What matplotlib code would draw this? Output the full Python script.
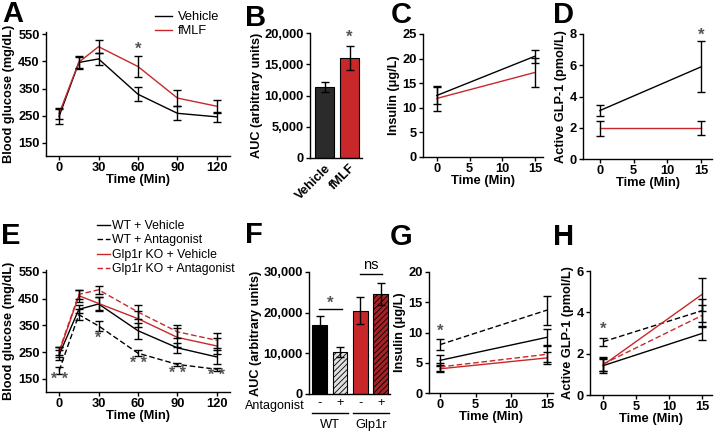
import numpy as np
import matplotlib
matplotlib.use("Agg")
import matplotlib.pyplot as plt
from matplotlib.lines import Line2D

plt.rcParams['font.family'] = ['Liberation Sans', 'DejaVu Sans']
plt.rcParams['hatch.linewidth'] = 0.6

W, H = 717, 434
BLACK = '#000000'
RED = '#c8282a'
STAR = '#555555'

# ---- panel A: OGTT vehicle vs fMLF
t_ogtt = [0, 15, 30, 60, 90, 120]
a_veh = [248, 446, 459, 329, 259, 246]
a_veh_err = [28, 24, 21, 25, 26, 19]
a_fmlf = [258, 447, 504, 431, 315, 285]
a_fmlf_err = [20, 20, 25, 38, 30, 24]

# ---- panel B: AUC
b_groups = ['Vehicle', 'fMLF']
b_auc = [11300, 16000]
b_err = [800, 1900]

# ---- panel C: insulin
t_short = [0, 15]
c_veh = [12.5, 20.5]
c_veh_err = [1.8, 1.3]
c_fmlf = [11.9, 17.2]
c_fmlf_err = [2.6, 2.9]

# ---- panel D: GLP-1
d_veh = [3.1, 5.9]
d_veh_err = [0.36, 1.62]
d_fmlf = [1.97, 1.97]
d_fmlf_err = [0.48, 0.46]

# ---- panel E: OGTT four groups
e_labels = ['WT + Vehicle', 'WT + Antagonist', 'Glp1r KO + Vehicle', 'Glp1r KO + Antagonist']
e_wt_veh = [240, 410, 430, 330, 266, 232]
e_wt_veh_err = [18, 15, 25, 30, 20, 25]
e_wt_ant = [181, 390, 348, 246, 204, 186]
e_wt_ant_err = [12, 20, 20, 12, 7, 6]
e_ko_veh = [250, 461, 432, 375, 305, 273]
e_ko_veh_err = [20, 22, 25, 30, 35, 30]
e_ko_ant = [255, 466, 483, 400, 326, 294]
e_ko_ant_err = [15, 18, 15, 28, 25, 28]
e_stars = {0: (146, '* *'), 30: (303, '*'), 60: (206, '* *'), 90: (169, '* *'), 120: (161, '* *')}

# ---- panel F: AUC four groups
f_signs = ['-', '+', '-', '+']
f_auc = [17000, 10300, 20500, 24700]
f_err = [2200, 1200, 3300, 2700]

# ---- panel G: insulin four groups
g_wt_veh = [5.4, 9.2]
g_wt_veh_err = [0.8, 1.3]
g_wt_ant = [8.0, 13.7]
g_wt_ant_err = [0.85, 2.4]
g_ko_veh = [4.0, 5.8]
g_ko_veh_err = [0.5, 1.0]
g_ko_ant = [4.3, 6.4]
g_ko_ant_err = [0.6, 1.3]

# ---- panel H: GLP-1 four groups
h_wt_veh = [1.42, 2.98]
h_wt_veh_err = [0.35, 0.3]
h_wt_ant = [2.58, 4.08]
h_wt_ant_err = [0.2, 0.55]
h_ko_veh = [1.45, 4.87]
h_ko_veh_err = [0.3, 0.8]
h_ko_ant = [1.5, 3.85]
h_ko_ant_err = [0.35, 0.5]

fig = plt.figure(figsize=(W / 100, H / 100), dpi=100)


def px_axes(x0, x1, ytop, ybot):
    return fig.add_axes([x0 / W, 1 - ybot / H, (x1 - x0) / W, (ybot - ytop) / H])


def style(ax):
    for s in ['top', 'right']:
        ax.spines[s].set_visible(False)
    for s in ['left', 'bottom']:
        ax.spines[s].set_linewidth(1.0)
    ax.tick_params(direction='out', length=3, width=1, labelsize=9.3, pad=1.5)
    for lab in ax.get_xticklabels() + ax.get_yticklabels():
        lab.set_fontweight('bold')


def series(ax, x, y, err, color, dashed=False):
    line, = ax.plot(x, y, color=color, lw=1.0)
    if dashed:
        line.set_dashes((4, 2))
    ax.errorbar(x, y, yerr=err, fmt='none', ecolor='black', elinewidth=1.0, capsize=3, capthick=1.0)
    return line


def star(ax, x, y, s='*', size=12):
    ax.text(x, y, s, color=STAR, fontsize=size, fontweight='bold', ha='center', va='center')


def letter(x, y, s):
    fig.text(x / W, 1 - y / H, s, fontsize=21, fontweight='bold', va='center', ha='left')


def xlabel(ax, s):
    ax.set_xlabel(s, fontsize=9.3, fontweight='bold', labelpad=0)


def ylabel(ax, s, pad=2):
    ax.set_ylabel(s, fontsize=9.2, fontweight='bold', labelpad=pad)


# ---------- A
ax = px_axes(46, 230, 32, 156)
series(ax, t_ogtt, a_veh, a_veh_err, BLACK)
series(ax, t_ogtt, a_fmlf, a_fmlf_err, RED)
ax.set_xlim(-10, 130)
ax.set_ylim(102, 558)
ax.set_xticks([0, 30, 60, 90, 120])
ax.set_yticks([150, 250, 350, 450, 550])
star(ax, 60, 496)
style(ax)
xlabel(ax, 'Time (Min)')
ylabel(ax, 'Blood glucose (mg/dL)')
ax.legend([Line2D([], [], color=BLACK, lw=1), Line2D([], [], color=RED, lw=1)], ['Vehicle', 'fMLF'],
          loc='upper left', bbox_to_anchor=((150 - 46) / 184, 1 + 26 / 124), frameon=False,
          fontsize=9.3, handlelength=1.3, handletextpad=0.45, labelspacing=0.15, borderaxespad=0)
letter(2, 14, 'A')

# ---------- B
ax = px_axes(310, 362, 33, 158)
ax.bar([0, 1], b_auc, width=0.76, color=['#2b2b2b', RED], edgecolor='black', lw=0.8)
ax.errorbar([0, 1], b_auc, yerr=b_err, fmt='none', ecolor='black', elinewidth=1, capsize=3, capthick=1)
ax.set_xlim(-0.58, 1.5)
ax.set_ylim(0, 20000)
ax.set_yticks([0, 5000, 10000, 15000, 20000])
ax.set_yticklabels(['0', '5,000', '10,000', '15,000', '20,000'])
ax.set_xticks([0, 1])
ax.set_xticklabels(b_groups, rotation=45, ha='right', rotation_mode='anchor')
star(ax, 1, 19300)
style(ax)
ax.tick_params(axis='x', length=0, pad=3)
ylabel(ax, 'AUC (arbitrary units)', pad=1)
letter(245, 18, 'B')

# ---------- C
ax = px_axes(423, 543, 34, 157)
series(ax, t_short, c_veh, c_veh_err, BLACK)
series(ax, t_short, c_fmlf, c_fmlf_err, RED)
ax.set_xlim(-2.1, 16.2)
ax.set_ylim(0, 25)
ax.set_xticks([0, 5, 10, 15])
ax.set_yticks([0, 5, 10, 15, 20, 25])
style(ax)
xlabel(ax, 'Time (Min)')
ylabel(ax, 'Insulin (\u03bcg/L)')
letter(391, 15, 'C')

# ---------- D
ax = px_axes(583, 712, 34, 159)
series(ax, t_short, d_veh, d_veh_err, BLACK)
series(ax, t_short, d_fmlf, d_fmlf_err, RED)
ax.set_xlim(-2.5, 16.6)
ax.set_ylim(0, 8)
ax.set_xticks([0, 5, 10, 15])
ax.set_yticks([0, 2, 4, 6, 8])
star(ax, 15, 7.95)
style(ax)
xlabel(ax, 'Time (Min)')
ylabel(ax, 'Active GLP-1 (pmol/L)')
letter(553, 15, 'D')

# ---------- E
ax = px_axes(46, 230, 270, 392)
l1 = series(ax, t_ogtt, e_wt_veh, e_wt_veh_err, BLACK)
l2 = series(ax, t_ogtt, e_wt_ant, e_wt_ant_err, BLACK, dashed=True)
l3 = series(ax, t_ogtt, e_ko_veh, e_ko_veh_err, RED)
l4 = series(ax, t_ogtt, e_ko_ant, e_ko_ant_err, RED, dashed=True)
ax.set_xlim(-10, 130)
ax.set_ylim(101, 557)
ax.set_xticks([0, 30, 60, 90, 120])
ax.set_yticks([150, 250, 350, 450, 550])
for x, (y, s) in e_stars.items():
    star(ax, x, y, s, size=11.5)
style(ax)
xlabel(ax, 'Time (Min)')
ylabel(ax, 'Blood glucose (mg/dL)')
ax.legend([l1, l2, l3, l4], e_labels, loc='upper left',
          bbox_to_anchor=((92 - 46) / 184, 1 + 55 / 122), frameon=False,
          fontsize=8.8, handlelength=1.05, handletextpad=0.2, labelspacing=0.2, borderaxespad=0)
letter(1, 236, 'E')

# ---------- F
ax = px_axes(309, 390, 272, 394)
xs = [0, 1, 2, 3]
colors = ['black', '#e0e0e0', RED, '#a52226']
hatches = [None, '//////', None, '//////']
for x, v, c, h in zip(xs, f_auc, colors, hatches):
    ax.bar(x, v, width=0.72, color=c, edgecolor='black', lw=0.8, hatch=h)
ax.errorbar(xs, f_auc, yerr=f_err, fmt='none', ecolor='black', elinewidth=1, capsize=3, capthick=1)
ax.set_xlim(-0.52, 3.45)
ax.set_ylim(0, 30000)
ax.set_yticks([0, 10000, 20000, 30000])
ax.set_yticklabels(['0', '10,000', '20,000', '30,000'])
ax.set_xticks(xs)
ax.set_xticklabels(f_signs)
ax.plot([-0.05, 1.1], [21000, 21000], color='black', lw=1, clip_on=False)
star(ax, 0.52, 22400)
ax.plot([2.0, 3.05], [29500, 29500], color='black', lw=1, clip_on=False)
ax.text(2.52, 31600, 'ns', fontsize=10.5, ha='center', va='center')
style(ax)
ax.tick_params(axis='x', length=0, pad=2.5, labelsize=9.3)
for lab in ax.get_xticklabels():
    lab.set_fontweight('normal')
fig.text(305 / W, 1 - 406 / H, 'Antagonist', fontsize=9, ha='right', va='center')
fig.add_artist(Line2D([312 / W, 348 / W], [1 - 413 / H] * 2, color='black', lw=1))
fig.add_artist(Line2D([353 / W, 389 / W], [1 - 413 / H] * 2, color='black', lw=1))
fig.text(330 / W, 1 - 425 / H, 'WT', fontsize=9.3, ha='center', va='center')
fig.text(371 / W, 1 - 425 / H, 'Glp1r', fontsize=9.3, ha='center', va='center')
ylabel(ax, 'AUC (arbitrary units)', pad=1)
letter(245, 235, 'F')

# ---------- G
ax = px_axes(429, 553, 272, 393)
series(ax, t_short, g_wt_veh, g_wt_veh_err, BLACK)
series(ax, t_short, g_wt_ant, g_wt_ant_err, BLACK, dashed=True)
series(ax, t_short, g_ko_veh, g_ko_veh_err, RED)
series(ax, t_short, g_ko_ant, g_ko_ant_err, RED, dashed=True)
ax.set_xlim(-1.55, 15.85)
ax.set_ylim(0, 20)
ax.set_xticks([0, 5, 10, 15])
ax.set_yticks([0, 5, 10, 15, 20])
star(ax, 0, 10.2)
style(ax)
xlabel(ax, 'Time (Min)')
ylabel(ax, 'Insulin (\u03bcg/L)')
letter(390, 237, 'G')

# ---------- H
ax = px_axes(590, 712, 271, 395)
series(ax, t_short, h_wt_veh, h_wt_veh_err, BLACK)
series(ax, t_short, h_wt_ant, h_wt_ant_err, BLACK, dashed=True)
series(ax, t_short, h_ko_veh, h_ko_veh_err, RED)
series(ax, t_short, h_ko_ant, h_ko_ant_err, RED, dashed=True)
ax.set_xlim(-2.0, 16.5)
ax.set_ylim(0, 6)
ax.set_xticks([0, 5, 10, 15])
ax.set_yticks([0, 2, 4, 6])
star(ax, 0, 3.2)
style(ax)
xlabel(ax, 'Time (Min)')
ylabel(ax, 'Active GLP-1 (pmol/L)')
letter(553, 237, 'H')

fig.savefig('out.png', dpi=100)
